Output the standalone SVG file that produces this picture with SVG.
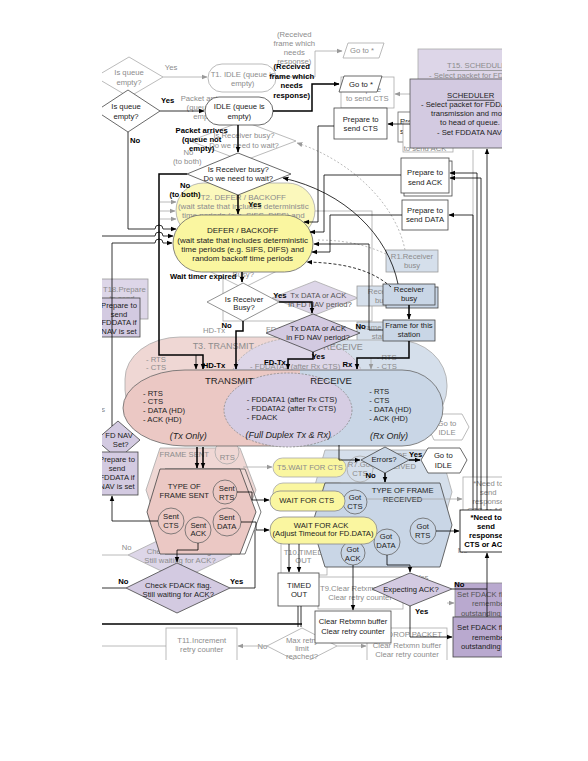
<svg xmlns="http://www.w3.org/2000/svg" width="588" height="761" viewBox="0 0 588 761">
<defs>
<style>
text{font-family:"Liberation Sans",Arial,sans-serif;font-size:7.7px;fill:#222;text-anchor:middle;dominant-baseline:central}
text.g{fill:#8c8c8c}
text.gd{fill:#555}
text.b{font-weight:bold;fill:#000}
text.s{text-anchor:start}
text.e{text-anchor:end}
text.t{font-size:9.5px}
text.tg{font-size:9px}
text.i{font-style:italic;font-size:9px}
text.u{text-decoration:underline}
text.f8{font-size:8px}
.gn{stroke:#aaa;stroke-width:0.8}
.mn{stroke:#444;stroke-width:0.8}
.w{fill:#fff}
.pk{fill:#ebc8c4}
.pkg{fill:#efd7d4}
.pu{fill:#d3cae1}
.pug{fill:#ddd6e8}
.bl{fill:#c9d6e6}
.blg{fill:#d5dfeb}
.ye{fill:#faf6a0}
.yeg{fill:#fbf8bc}
.dp{fill:#b9a9cf}
.ln{fill:none;stroke:#000;stroke-width:0.8}
.lt{fill:none;stroke:#000;stroke-width:1.5}
.lg{fill:none;stroke:#a8a8a8;stroke-width:0.8}
.dot{fill:none;stroke:#aaa;stroke-width:0.8;stroke-dasharray:2 2}
.dsh{fill:none;stroke:#000;stroke-width:0.8;stroke-dasharray:3 2}
</style>
<marker id="ah" viewBox="0 0 10 10" refX="9" refY="5" markerWidth="6" markerHeight="6" markerUnits="userSpaceOnUse" orient="auto"><path d="M0,1L10,5L0,9z" fill="#000"/></marker>
<marker id="ag" viewBox="0 0 10 10" refX="9" refY="5" markerWidth="6" markerHeight="6" markerUnits="userSpaceOnUse" orient="auto"><path d="M0,1L10,5L0,9z" fill="#999"/></marker>
<clipPath id="clip"><rect x="102" y="0" width="400" height="660"/></clipPath>
</defs>
<rect width="588" height="761" fill="#fff"/>
<g clip-path="url(#clip)">
<g id="ghost">
<rect x="223" y="211" width="149" height="110" fill="none" class="gn"/>
<polygon points="95,77 129,57 163,77 129,97" class="w gn"/>
<text class="g" x="129" y="72.7">Is queue</text>
<text class="g" x="129" y="82">empty?</text>
<text class="g" x="171" y="67">Yes</text>
<path d="M163,77H207" class="lg" marker-end="url(#ag)"/>
<rect x="208" y="64" width="68" height="28" rx="14" class="w gn"/>
<text class="g" x="242.7" y="74">T1. IDLE (queue is</text>
<text class="g" x="242.7" y="83">empty)</text>
<text class="g" x="294.3" y="34">(Received</text>
<text class="g" x="294.3" y="43.3">frame which</text>
<text class="g" x="294.3" y="52.3">needs</text>
<text class="g" x="294.3" y="61.7">response)</text>
<path d="M276,77H315V51H342" class="lg" marker-end="url(#ag)"/>
<polygon points="348,43 384,43 379,58 343,58" class="w gn"/>
<text class="g" x="362" y="50.5">Go to *</text>
<rect x="418" y="49" width="100" height="70" class="pug gn"/>
<text class="g s u" x="447" y="65.7">T15. SCHEDULER</text>
<text class="g s" x="429" y="75.3">- Select packet for FDDATA</text>
<rect x="341" y="77" width="53" height="31" class="w gn"/>
<text class="g" x="367.3" y="89">Prepare</text>
<text class="g" x="367.3" y="98.3">to send CTS</text>
<path d="M418,94H395" class="lg" marker-end="url(#ag)"/>
<rect x="398" y="112" width="62" height="30" class="w" stroke="#666" stroke-width="0.8"/>
<text class="s" x="400" y="121.7">Prepare to</text>
<text class="s" x="400" y="131">send RTS</text>
<rect x="403" y="122" width="50" height="30" class="w gn"/>
<text class="g" x="428" y="139">Prepare</text>
<text class="g" x="425" y="148.3">to send ACK</text>
<text class="g" x="205" y="98.3">Packet arrives</text>
<text class="g" x="205" y="107.3">(queue not</text>
<text class="g" x="205" y="116.7">empty)</text>
<polygon points="190,141 243,121 296,141 243,161" class="w gn"/>
<text class="g" x="244" y="135">Is Receiver busy?</text>
<text class="g" x="244" y="145.7">Do we need to wait?</text>
<text class="g" x="188.3" y="152.7">No</text>
<text class="g" x="187.3" y="161.7">(to both)</text>
<rect x="176" y="183" width="139" height="55" rx="27.5" class="yeg gn"/>
<text class="g f8" x="243.3" y="197.3">T2. DEFER / BACKOFF</text>
<text class="g f8" x="243.3" y="206.7">(wait state that includes deterministic</text>
<text class="g f8" x="243.3" y="215.7">time periods (e.g. SIFS, DIFS) and</text>
<text class="g f8" x="243.3" y="225">random backoff time periods</text>
<path d="M160,202H176" class="lg" marker-end="url(#ag)"/>
<path d="M160,211H175" class="lg" marker-end="url(#ag)"/>
<path d="M160,219H176" class="lg" marker-end="url(#ag)"/>
<polygon points="207,270 243,252 279,270 243,288" class="w gn"/>
<text class="g" x="243" y="265">Is Receiver</text>
<text class="g" x="243.3" y="274.3">Busy?</text>
<polygon points="272,298 315,281 358,298 315,315" class="pug gn"/>
<text class="gd" x="318.3" y="295">Tx DATA or ACK</text>
<text class="gd" x="320" y="304.3">in FD NAV period?</text>
<text class="g" x="214" y="330.7">HD-Tx</text>
<text class="g s" x="266" y="329.3">FD-Tx</text>
<rect x="386" y="250" width="52" height="22" class="blg" stroke="#999" stroke-width="0.8"/>
<text class="g" x="412" y="256">R1.Receiver</text>
<text class="g" x="412" y="265.3">busy</text>
<rect x="357" y="286" width="52" height="20" class="blg" stroke="#999" stroke-width="0.8"/>
<text class="g" x="383" y="291.7">Receiver</text>
<text class="g" x="383" y="300.7">busy</text>
<rect x="357" y="322" width="52" height="20" class="blg" stroke="#999" stroke-width="0.8"/>
<text class="g" x="383" y="327">Frame for this</text>
<text class="g" x="383" y="336">station</text>
<rect x="125" y="337" width="200" height="95" rx="55" ry="42" class="pkg gn"/>
<rect x="290" y="340" width="157" height="92" rx="50" ry="45" class="blg gn"/>
<ellipse cx="297" cy="380" rx="66" ry="42" class="pug" stroke="#aaa" stroke-width="0.8" stroke-dasharray="2 1.5"/>
<text class="g tg" x="223.3" y="346">T3. TRANSMIT</text>
<text class="g tg" x="343" y="346.5">RECEIVE</text>
<text class="g s" x="146" y="359.3">- RTS</text>
<text class="g s" x="146" y="367.3">- CTS</text>
<text class="g s" x="250" y="366">- FDDATA1 (after Rx CTS)</text>
<text class="g s" x="376.7" y="357.3">- RTS</text>
<text class="g s" x="376.7" y="366.7">- CTS</text>
<path d="M371,358V369" class="lg" marker-end="url(#ag)"/>
<polygon points="428,427 434,414 462,414 469,427 462,440 434,440" class="w gn"/>
<text class="g" x="447" y="423">Go to</text>
<text class="g" x="447" y="432">IDLE</text>
<polygon points="160,448 240,448 256,490 240,532 160,532 146,490" class="pkg gn"/>
<text class="g" x="184.3" y="454.3">FRAME SENT</text>
<circle cx="227" cy="452" r="12" class="pkg gn"/>
<text class="g" x="227.3" y="457.3">RTS</text>
<path d="M243,467H272" class="lg" marker-end="url(#ag)"/>
<polygon points="325,450 440,450 452,492 440,534 325,534 313,492" class="blg gn"/>
<text class="g e" x="407" y="455">TYPE OF</text>
<text class="g e" x="416" y="466">FRAME RECEIVED</text>
<circle cx="360" cy="469" r="13" class="blg gn"/>
<text class="g" x="360" y="464.3">R7.Got</text>
<text class="g" x="360" y="473.3">CTS</text>
<rect x="273" y="458" width="73" height="19" rx="9.5" class="ye gn"/>
<text class="g" x="310" y="467.3">T5.WAIT FOR CTS</text>
<rect x="273" y="483" width="76" height="20" rx="10" class="ye gn"/>
<text class="g" x="311" y="494">T6.WAIT FOR ACK</text>
<rect x="463" y="477" width="60" height="41" class="w gn"/>
<text class="g" x="488.3" y="483.3">*Need to</text>
<text class="g" x="488.3" y="492.7">send</text>
<text class="g" x="488.3" y="501.7">response</text>
<text class="g" x="488.3" y="510.7">CTS or ACK</text>
<rect x="281" y="543" width="46" height="32" class="w gn"/>
<text class="g" x="303.3" y="552">T10.TIMED</text>
<text class="g" x="303.3" y="560.7">OUT</text>
<polygon points="128,555 180,530 232,555 180,580" class="pug gn"/>
<text class="g" x="180" y="551">Check FDACK flag.</text>
<text class="g" x="180" y="560">Still waiting for ACK?</text>
<text class="g" x="126.7" y="547.7">No</text>
<path d="M102,555H128" class="lg"/>
<rect x="318" y="577" width="85" height="32" class="w gn"/>
<text class="g s" x="320" y="588.3">T9.Clear Retxmn buffer</text>
<text class="g s" x="328.3" y="597.7">Clear retry counter</text>
<polygon points="267,646 302,628 337,646 302,664" class="w gn"/>
<text class="g" x="302" y="640">Max retry</text>
<text class="g" x="302" y="648">limit</text>
<text class="g" x="302" y="656">reached?</text>
<text class="g" x="262.3" y="646">No</text>
<path d="M267,646H238" class="lg" marker-end="url(#ag)"/>
<rect x="166" y="628" width="71" height="40" class="w gn"/>
<text class="g" x="201.7" y="640">T11.Increment</text>
<text class="g" x="201.7" y="649.3">retry counter</text>
<path d="M102,646H166" class="lg"/>
<rect x="367" y="628" width="80" height="40" class="w gn"/>
<text class="g e" x="442" y="634">DROP PACKET</text>
<text class="g" x="407" y="645">Clear Retxmn buffer</text>
<text class="g" x="407" y="654">Clear retry counter</text>
<path d="M337,646H366" class="lg" marker-end="url(#ag)"/>
<rect x="455" y="583" width="65" height="34" class="dp" stroke="#888" stroke-width="0.8"/>
<text class="gd s" x="457" y="594.3">Set FDACK flag to</text>
<text class="gd s" x="472" y="603.7">remember</text>
<text class="gd s" x="461" y="613.3">outstanding ACK</text>
<path d="M447,603H454" class="lg" marker-end="url(#ag)"/>
<text class="g" x="422" y="577">Yes</text>
<text class="g" x="462.7" y="550.7">No</text>
<rect x="96" y="279" width="52" height="40" class="pug" stroke="#999" stroke-width="0.8"/>
<text class="g s" x="103" y="289.3">T18.Prepare</text>
<text class="g" x="122" y="298">to send</text>
<text class="g e" x="105" y="409">Yes</text>
<path d="M473,477V150" class="lg"/>
<path d="M405,250C395,200 345,158 297,143" class="dot" marker-end="url(#ag)"/>
<path d="M386,254C362,243 340,240 316,240" class="dot"/>
</g>

<g id="nodes">
<g id="n-queue"><polygon points="96,111 128,90 160,111 128,132" class="w mn"/><text x="126" y="106.7">Is queue</text><text x="126" y="116">empty?</text></g>
<g id="n-idle"><rect x="205" y="97" width="68" height="28" rx="14" class="w mn"/><text x="239.3" y="106.7">IDLE (queue is</text><text x="239.3" y="116">empty)</text></g>
<g id="n-goto"><polygon points="344,76 382,76 377,92 339,92" class="w mn"/><text x="361" y="84">Go to *</text></g>
<g id="n-prep-cts"><rect x="334" y="108" width="53" height="31" class="w mn"/><text x="360.7" y="119.3">Prepare to</text><text x="360.7" y="128.7">send CTS</text></g>
<g id="n-scheduler"><rect x="410" y="79" width="110" height="69" class="pu" stroke="#555" stroke-width="0.8"/>
<text class="s u" x="447" y="95.3">SCHEDULER</text>
<text class="s" x="421" y="104.7">- Select packet for FDDATA</text>
<text class="s" x="431" y="113.7">transmission and move it</text>
<text class="s" x="440" y="122.7">to head of queue.</text>
<text class="s" x="437" y="132">- Set FDDATA NAV</text></g>
<g id="n-prep-ack"><rect x="404" y="161" width="48" height="35" class="w mn"/><rect x="401" y="158" width="48" height="35" class="w mn"/><text x="425" y="172.7">Prepare to</text><text x="425" y="182">send ACK</text></g>
<g id="n-prep-data"><rect x="402" y="200" width="46" height="30" class="w mn"/><text x="425" y="210.3">Prepare to</text><text x="425" y="219.3">send DATA</text></g>
<g id="n-rxbusy-q"><polygon points="187,174 238,153 291,174 238,195" class="w mn"/><text x="238.3" y="169.3">Is Receiver busy?</text><text x="238.3" y="178.3">Do we need to wait?</text></g>
<g id="n-defer"><rect x="173" y="215" width="140" height="57" rx="28.5" class="ye" stroke="#666" stroke-width="0.8"/>
<text class="f8" x="242.7" y="230.7">DEFER / BACKOFF</text>
<text class="f8" x="242.7" y="240">(wait state that includes deterministic</text>
<text class="f8" x="242.7" y="249">time periods (e.g. SIFS, DIFS) and</text>
<text class="f8" x="242.7" y="258.3">random backoff time periods</text></g>
<g id="n-isrxbusy"><polygon points="207,302 243,283 279,302 243,321" class="w" stroke="#777" stroke-width="0.8"/><text x="244" y="299">Is Receiver</text><text x="244" y="307.3">Busy?</text></g>
<g id="n-fdnav-q"><polygon points="266,333 313,314 360,333 313,352" class="pu mn"/><text x="318" y="328.3">Tx DATA or ACK</text><text x="318" y="337.3">in FD NAV period?</text></g>
<g id="n-rxbusy"><rect x="386" y="287" width="52" height="21" class="bl mn"/><rect x="383" y="284" width="52" height="21" class="bl mn"/><text x="409" y="289.3">Receiver</text><text x="409" y="298.3">busy</text></g>
<g id="n-frame"><rect x="383" y="320" width="52" height="21" class="bl mn"/><text x="409" y="325">Frame for this</text><text x="409" y="334">station</text></g>
<g id="n-modes">
<path d="M185,370H300V446H185A62,38 0 0 1 185,370Z" class="pk"/>
<path d="M300,370H402A41,38 0 0 1 402,446H300Z" class="bl"/>
<path d="M185,370H402A41,38 0 0 1 402,446H185A62,38 0 0 1 185,370Z" fill="none" stroke="#666" stroke-width="0.8"/>
<ellipse cx="288" cy="410" rx="64" ry="37" fill="#d6cde3" stroke="#888" stroke-width="0.8" stroke-dasharray="2 1.5"/>
<text class="t" x="229.3" y="380">TRANSMIT</text>
<text class="t" x="331" y="380">RECEIVE</text>
<text class="s" x="143" y="393.3">- RTS</text>
<text class="s" x="143" y="401.7">- CTS</text>
<text class="s" x="143" y="410.7">- DATA (HD)</text>
<text class="s" x="143" y="419.3">- ACK (HD)</text>
<text class="s" x="246.7" y="399.3">- FDDATA1 (after Rx CTS)</text>
<text class="s" x="246.7" y="408.3">- FDDATA2 (after Tx CTS)</text>
<text class="s" x="246.7" y="417.3">- FDACK</text>
<text class="s" x="369.3" y="391.5">- RTS</text>
<text class="s" x="369.3" y="400.3">- CTS</text>
<text class="s" x="369.3" y="409.3">- DATA (HD)</text>
<text class="s" x="369.3" y="418.3">- ACK (HD)</text>
<text class="i" x="188.3" y="435.7">(Tx Only)</text>
<text class="i" x="288.3" y="434.5">(Full Duplex Tx &amp; Rx)</text>
<text class="i" x="389" y="435.7">(Rx Only)</text>
</g>
<g id="n-gotoidle"><polygon points="421,460 428,448 460,448 467,460 460,473 428,473" class="w mn"/><text x="443.3" y="455.7">Go to</text><text x="443.3" y="465">IDLE</text></g>
<g id="n-errors"><polygon points="361,460 385,447 409,460 385,473" class="bl mn"/><text x="384" y="459.5">Errors?</text></g>
<g id="n-fdnav-set"><polygon points="96,440 118,421 140,440 118,459" class="pu mn"/><text x="119" y="435">FD NAV</text><text x="120.7" y="444">Set?</text></g>
<g id="n-fddata-1"><rect x="92" y="298" width="48" height="39" class="pu mn"/><text x="119" y="305.7">Prepare to</text><text x="119" y="314">send</text><text x="119" y="322.5">FDDATA if</text><text x="119" y="331">NAV is set</text></g>
<g id="n-fddata-2"><rect x="92" y="452" width="46" height="43" class="pu mn"/><text x="117" y="459.3">Prepare to</text><text x="117" y="468.3">send</text><text x="117" y="477.3">FDDATA if</text><text x="117" y="486.7">NAV is set</text></g>
<g id="n-sent">
<polygon points="165,469 245,469 261,512 245,554 165,554" fill="none" stroke="#555" stroke-width="0.8"/>
<polygon points="160,469 240,469 256,512 240,554 160,554 147,512" class="pk mn"/>
<text x="184.3" y="486">TYPE OF</text><text x="184.3" y="495">FRAME SENT</text>
<circle cx="225" cy="492" r="12" class="pk" stroke="#666" stroke-width="0.8"/><text x="226.7" y="488.3">Sent</text><text x="226.7" y="497.3">RTS</text>
<circle cx="171" cy="521" r="13" class="pk" stroke="#666" stroke-width="0.8"/><text x="171" y="516.7">Sent</text><text x="171" y="525">CTS</text>
<circle cx="198" cy="530" r="13" class="pk" stroke="#666" stroke-width="0.8"/><text x="198.3" y="525">Sent</text><text x="198.3" y="533.3">ACK</text>
<circle cx="227" cy="522" r="14" class="pk" stroke="#666" stroke-width="0.8"/><text x="226.7" y="517.3">Sent</text><text x="226.7" y="526">DATA</text>
</g>
<g id="n-received">
<polygon points="325,483 440,483 452,525 440,567 325,567 312,525" class="bl mn"/>
<text x="402.7" y="490">TYPE OF FRAME</text><text x="402.7" y="499">RECEIVED</text>
<circle cx="355" cy="502" r="12" class="bl" stroke="#666" stroke-width="0.8"/><text x="355" y="497.7">Got</text><text x="355" y="506.7">CTS</text>
<circle cx="423" cy="531" r="13" class="bl" stroke="#666" stroke-width="0.8"/><text x="422.7" y="526">Got</text><text x="422.7" y="535">RTS</text>
<circle cx="387" cy="542" r="13" class="bl" stroke="#666" stroke-width="0.8"/><text x="386" y="536.7">Got</text><text x="386" y="545.7">DATA</text>
<circle cx="353" cy="553" r="12" class="bl" stroke="#666" stroke-width="0.8"/><text x="352.7" y="549.3">Got</text><text x="352.7" y="558.3">ACK</text>
</g>
<g id="n-waitcts"><rect x="270" y="491" width="75" height="20" rx="10" class="ye" stroke="#888" stroke-width="0.8"/><text x="306.7" y="500.5">WAIT FOR CTS</text></g>
<g id="n-waitack"><rect x="270" y="517" width="107" height="27" rx="13" class="ye" stroke="#888" stroke-width="0.8"/><text x="321" y="525">WAIT FOR ACK</text><text x="323" y="533.5">(Adjust Timeout for FD.DATA)</text></g>
<g id="n-need"><rect x="460" y="510" width="60" height="42" class="w" stroke="#000" stroke-width="0.8"/><text class="b" x="486" y="517.3">*Need to</text><text class="b" x="486" y="526.7">send</text><text class="b" x="486" y="535.7">response</text><text class="b" x="486" y="544.5">CTS or ACK</text></g>
<g id="n-check"><polygon points="126,588 177,563 230,588 177,613" class="pu mn"/><text x="178.3" y="585">Check FDACK flag.</text><text x="178.3" y="594">Still waiting for ACK?</text></g>
<g id="n-timedout"><rect x="278" y="573" width="41" height="33" class="w mn"/><text x="299" y="585">TIMED</text><text x="299" y="594">OUT</text></g>
<g id="n-clear"><rect x="315" y="611" width="76" height="32" class="w mn"/><text x="353" y="621.7">Clear Retxmn buffer</text><text x="353" y="631">Clear retry counter</text></g>
<g id="n-expack"><polygon points="372,589 410,573 452,589 410,606" class="pu mn"/><text x="411" y="589.3">Expecting ACK?</text></g>
<g id="n-setfdack"><rect x="453" y="617" width="65" height="40" class="dp mn"/><text class="s" x="457" y="627.7">Set FDACK flag to</text><text class="s" x="472" y="637">remember</text><text class="s" x="461" y="646.7">outstanding ACK</text></g>
</g>

<g id="connectors">
<path d="M160,111H204" class="ln" marker-end="url(#ah)"/>
<path d="M273,111H312V84H339" class="lt" marker-end="url(#ah)"/>
<path d="M238,125V152" class="lt" marker-end="url(#ah)"/>
<path d="M128,132V229H155A4,4 0 0 1 163,229H176" class="ln" marker-end="url(#ah)"/>
<path d="M102,236H155A4,4 0 0 1 163,236H173" class="ln" marker-end="url(#ah)"/>
<path d="M112,426V243H155A4,4 0 0 1 163,243H172" class="ln" marker-end="url(#ah)"/>
<path d="M187,174H159V355H203V369" class="lt" marker-end="url(#ah)"/>
<path d="M196,355V369" class="ln" marker-end="url(#ah)"/>
<path d="M238,195V214" class="lt" marker-end="url(#ah)"/>
<path d="M242,272V282" class="lt" marker-end="url(#ah)"/>
<path d="M279,302H312V313" class="lt" marker-end="url(#ah)"/>
<path d="M243,321V331H236V369" class="lt" marker-end="url(#ah)"/>
<path d="M313,352V359H288V369" class="lt" marker-end="url(#ah)"/>
<path d="M409,305V319" class="lt" marker-end="url(#ah)"/>
<path d="M409,341V358H357V369" class="lt" marker-end="url(#ah)"/>
<path d="M383,330H369V244H314" class="ln" marker-end="url(#ah)"/>
<path d="M401,175H324V232H310" class="ln" marker-end="url(#ah)"/>
<path d="M402,215H330V252H312" class="ln" marker-end="url(#ah)"/>
<path d="M334,126H318V222H304" class="ln" marker-end="url(#ah)"/>
<path d="M410,124H388" class="ln" marker-end="url(#ah)"/>
<path d="M398,284C388,235 345,192 283,178" class="ln" marker-end="url(#ah)"/>
<path d="M391,287C372,270 345,263 307,262" class="dsh" marker-end="url(#ah)"/>
<path d="M197,447V468" class="lt" marker-end="url(#ah)"/>
<path d="M203,447V468" class="lt" marker-end="url(#ah)"/>
<path d="M339,445V460H360" class="ln" marker-end="url(#ah)"/>
<path d="M409,460H420" class="lt" marker-end="url(#ah)"/>
<path d="M385,473V482" class="lt" marker-end="url(#ah)"/>
<path d="M237,492H252V500H269" class="ln" marker-end="url(#ah)"/>
<path d="M241,522H256V530H269" class="ln" marker-end="url(#ah)"/>
<path d="M198,543V550H177V562" class="ln" marker-end="url(#ah)"/>
<path d="M158,521H112V496" class="ln" marker-end="url(#ah)"/>
<path d="M126,588H102" class="ln"/>
<path d="M230,588H255V530" class="ln"/>
<path d="M289,544V572" class="ln" marker-end="url(#ah)"/>
<path d="M299,544V572" class="ln" marker-end="url(#ah)"/>
<path d="M298,606V627M301,606V627" class="ln"/>
<path d="M102,624H302" class="lt"/>
<path d="M353,565V610" class="ln" marker-end="url(#ah)"/>
<path d="M387,555V565H410V572" class="ln" marker-end="url(#ah)"/>
<path d="M452,589H487V553" class="ln" marker-end="url(#ah)"/>
<path d="M487,617V589" class="ln"/>
<path d="M410,606V637H452" class="ln" marker-end="url(#ah)"/>
<path d="M436,531H459" class="ln" marker-end="url(#ah)"/>
<path d="M367,499H462" class="lg" marker-end="url(#ag)"/>
<path d="M473,510V215H449" class="ln" marker-end="url(#ah)"/>
<path d="M477,510V173H450" class="ln" marker-end="url(#ah)"/>
<path d="M481,510V178H450" class="ln" marker-end="url(#ah)"/>
<path d="M487,510V149" class="ln" marker-end="url(#ah)"/>
</g>

<g id="labels">
<text class="b" x="167.7" y="100">Yes</text>
<text class="b" x="291.7" y="66.7">(Received</text>
<text class="b" x="291.7" y="76">frame which</text>
<text class="b" x="291.7" y="85.7">needs</text>
<text class="b" x="291.7" y="95">response)</text>
<text class="b" x="201.7" y="130.7">Packet arrives</text>
<text class="b" x="201.7" y="139.3">(queue not</text>
<text class="b" x="201.7" y="148.3">empty)</text>
<text class="b" x="135" y="140.7">No</text>
<text class="b" x="185" y="185">No</text>
<text class="b" x="185" y="194">(to both)</text>
<text class="b" x="255" y="204">Yes</text>
<text class="b" x="203.3" y="276.7">Wait timer expired</text>
<text class="b" x="280" y="295">Yes</text>
<text class="b" x="226.7" y="325.7">No</text>
<text class="b" x="214" y="365">HD-Tx</text>
<text class="b" x="275" y="362.7">FD-Tx</text>
<text class="b" x="318.3" y="356">Yes</text>
<text class="b" x="360.7" y="326.7">No</text>
<text class="b" x="347.3" y="364">Rx</text>
<text class="b" x="415.7" y="454.3">Yes</text>
<text class="b" x="370.7" y="475">No</text>
<text class="b" x="123.3" y="581">No</text>
<text class="b" x="236.7" y="581">Yes</text>
<text class="b" x="459.3" y="584">No</text>
<text class="b" x="421.7" y="611">Yes</text>
</g>
</g>
</svg>
